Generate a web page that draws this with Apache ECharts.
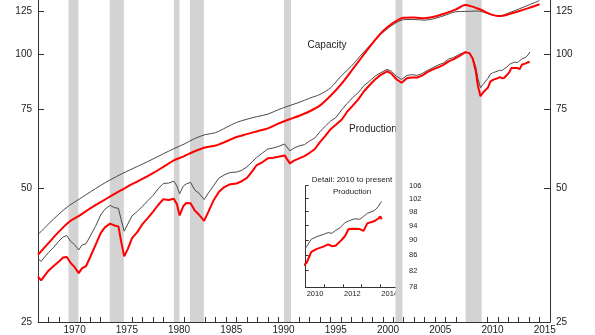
<!DOCTYPE html>
<html>
<head>
<meta charset="utf-8">
<script src="https://cdn.jsdelivr.net/npm/echarts@6/dist/echarts.min.js"></script>
<style>
  html, body { margin: 0; padding: 0; background: #ffffff; }
  #chart { width: 595px; height: 335px; }
</style>
</head>
<body>
<div id="chart"></div>
<script>
// Industrial production and capacity, index values (ratio scale)
const capacityDates = [1967,1968,1969,1970,1971,1972,1973,1974,1975,1976,1977,1978,1979,1980,1981,1982,1983,1984,1985,1986,1987,1988,1989,1990,1991,1992,1993,1994,1995,1996,1997,1998,1999,2000,2001,2002,2003,2004,2005,2006,2007,2007.9,2008.5,2009.0,2009.5,2010.0,2010.5,2011.0,2011.5,2012.0,2013.0,2014.0,2015.0];
const capacityOld = [39.3,41.5,43.7,45.7,47.3,49.0,50.7,52.3,53.8,55.2,56.6,58.1,59.7,61.3,62.8,64.6,65.9,66.6,68.4,70.2,71.4,72.4,73.3,75.0,76.5,77.9,79.6,81.2,84.0,89.2,94.0,100.0,106.0,111.8,116.5,119.5,119.6,119.2,120.3,122.3,124.5,124.7,124.8,125.0,124.5,123.4,122.3,121.8,122.2,123.6,126.2,129.0,131.9];
const capacityNew = [35.4,37.6,39.9,42.0,43.4,45.0,46.5,48.0,49.5,51.0,52.4,54.0,55.8,57.7,59.0,60.5,61.7,62.3,63.6,65.1,66.1,67.1,68.1,69.8,71.3,72.7,74.4,76.7,80.6,85.5,91.7,98.5,105.7,112.5,117.5,120.7,120.8,120.4,121.5,123.5,126.0,128.9,128.0,126.8,125.5,123.8,122.5,121.8,122.0,122.8,124.8,127.0,129.4];

const productionDates = [1967.0,1967.3,1967.6,1968.0,1968.5,1969.0,1969.4,1969.75,1970.1,1970.5,1970.9,1971.2,1971.6,1972.0,1972.5,1973.0,1973.4,1973.9,1974.3,1974.7,1974.95,1975.25,1975.6,1976.0,1976.5,1977.0,1977.5,1978.0,1978.5,1979.0,1979.5,1980.0,1980.3,1980.55,1980.9,1981.2,1981.6,1982.0,1982.4,1982.9,1983.3,1983.8,1984.3,1984.8,1985.4,1986.0,1986.5,1987.0,1987.5,1987.9,1988.5,1989.0,1989.5,1990.0,1990.6,1991.1,1991.5,1992.0,1992.5,1993.0,1993.5,1994.0,1994.5,1995.0,1995.5,1996.1,1996.6,1997.1,1997.65,1998.2,1998.7,1999.25,1999.8,2000.4,2000.8,2001.3,2001.8,2002.3,2002.75,2003.3,2003.8,2004.3,2004.8,2005.3,2005.8,2006.3,2006.8,2007.3,2007.9,2008.3,2008.6,2008.9,2009.1,2009.35,2009.6,2009.85,2010.05,2010.3,2010.6,2010.95,2011.2,2011.4,2011.6,2011.85,2012.1,2012.3,2012.6,2012.9,2013.1,2013.3,2013.7,2013.9,2014.0,2014.07];
const productionOld = [34.7,34.2,34.9,35.8,36.8,38.0,38.8,39.1,38.0,37.3,36.3,37.2,37.5,39.0,41.0,43.5,44.8,45.7,45.2,45.0,42.5,40.0,41.5,43.3,44.3,45.5,46.8,48.1,49.8,51.2,51.3,51.8,50.5,48.5,50.5,51.1,51.5,49.5,48.7,47.1,48.7,50.6,52.6,53.5,54.2,54.3,54.8,55.8,57.3,58.5,60.0,61.2,61.5,62.0,62.8,60.6,61.5,62.2,62.6,63.8,64.8,67.0,68.9,70.7,72.0,75.1,77.5,79.8,81.9,85.0,86.8,89.2,90.8,92.4,91.6,89.2,87.7,89.5,89.9,89.6,90.5,92.0,93.2,94.5,95.5,97.5,98.3,99.8,101.1,100.4,98.0,93.5,88.0,84.0,85.5,87.0,88.2,90.2,90.9,91.5,92.0,91.8,92.6,93.4,94.8,95.3,95.9,95.8,96.6,97.5,98.4,99.6,100.6,101.1];
const productionNew = [31.6,31.0,31.7,32.6,33.4,34.2,34.9,35.0,34.0,33.2,32.2,33.0,33.4,35.0,37.2,39.6,40.8,41.6,41.2,41.0,38.0,35.1,36.5,38.6,39.8,41.5,42.8,44.2,45.8,47.2,47.0,47.3,46.0,43.4,45.5,46.3,46.2,44.5,43.6,42.2,44.2,46.9,49.0,50.2,51.0,51.2,51.8,52.7,54.5,56.2,57.2,58.3,58.5,58.8,59.2,56.8,57.6,58.3,59.0,60.0,61.2,63.5,65.5,67.8,69.4,71.4,74.3,76.5,79.1,82.5,85.0,87.7,89.8,91.5,90.5,87.8,86.2,88.2,88.6,88.6,89.6,91.2,92.4,93.4,94.6,96.3,97.4,99.0,101.0,100.5,97.7,91.5,84.8,80.4,82.0,83.2,84.0,86.8,87.6,88.2,88.8,88.3,88.4,89.6,91.0,93.0,93.1,93.0,92.5,94.6,95.3,96.0,96.6,95.8];

// Recession periods (decimal years)
const recessions = [[1969.92,1970.87],[1973.87,1975.21],[1980.0,1980.54],[1981.54,1982.87],[1990.54,1991.21],[2001.21,2001.87],[2007.92,2009.46]];

// Tick values
const mainYTicks = [25, 50, 75, 100, 125];
const mainXLabels = [1970, 1975, 1980, 1985, 1990, 1995, 2000, 2005, 2010, 2015];
const insetYTicks = [78, 82, 86, 90, 94, 98, 102, 106];
const insetXLabels = [2010, 2012, 2014];

const LN = Math.log;
const pairs = (xs, ys) => xs.map((x, i) => [x, LN(ys[i])]);
const range = (a, b) => { const r = []; for (let v = a; v <= b; v++) r.push(v); return r; };

const FONT = '"Liberation Sans", Arial, Helvetica, sans-serif';
const INK = '#222';
const AXIS = '#333';
const GREY_LINE = '#4a4a4a';
const RED = '#ff0000';

const mainYMin = LN(25), mainYMax = LN(132.3);
const insetYMin = LN(78), insetYMax = LN(106);

function yFormatter(v) { return String(Math.round(Math.exp(v))); }
function xFormatter(v) { return String(Math.floor(v)); }

const chart = echarts.init(document.getElementById('chart'), null, { renderer: 'canvas' });

const option = {
  animation: false,
  backgroundColor: '#ffffff',
  textStyle: { fontFamily: FONT },
  grid: [
    { left: 38, right: 45, top: 0, bottom: 11 },
    { left: 305.7, top: 185.7, width: 93.3, height: 101.6 }
  ],
  xAxis: [
    {
      gridIndex: 0, type: 'value', min: 1967, max: 2016,
      splitLine: { show: false },
      axisLine: { show: true, lineStyle: { color: AXIS, width: 1 } },
      axisTick: { show: true, inside: true, length: 5, customValues: range(1967, 2016), lineStyle: { color: AXIS } },
      axisLabel: { customValues: mainXLabels.map(y => y + 0.5), formatter: xFormatter, color: INK, fontSize: 10, margin: 3, fontFamily: FONT }
    },
    {
      gridIndex: 1, type: 'value', min: 2010, max: 2015,
      splitLine: { show: false },
      axisLine: { show: true, lineStyle: { color: AXIS, width: 1 } },
      axisTick: { show: true, inside: true, length: 3, customValues: range(2010, 2015), lineStyle: { color: AXIS } },
      axisLabel: { customValues: insetXLabels.map(y => y + 0.5), formatter: xFormatter, color: INK, fontSize: 7.5, margin: 3, fontFamily: FONT }
    }
  ],
  yAxis: [
    {
      gridIndex: 0, type: 'value', position: 'left', min: mainYMin, max: mainYMax,
      splitLine: { show: false },
      axisLine: { show: true, lineStyle: { color: AXIS, width: 1 } },
      axisTick: { show: true, inside: true, length: 6, customValues: mainYTicks.map(LN), lineStyle: { color: AXIS } },
      axisLabel: { customValues: mainYTicks.map(LN), formatter: yFormatter, color: INK, fontSize: 10, margin: 6, fontFamily: FONT }
    },
    {
      gridIndex: 0, type: 'value', position: 'right', min: mainYMin, max: mainYMax,
      splitLine: { show: false },
      axisLine: { show: true, lineStyle: { color: AXIS, width: 1 } },
      axisTick: { show: true, inside: true, length: 6, customValues: mainYTicks.map(LN), lineStyle: { color: AXIS } },
      axisLabel: { customValues: mainYTicks.map(LN), formatter: yFormatter, color: INK, fontSize: 10, margin: 6, fontFamily: FONT }
    },
    {
      gridIndex: 1, type: 'value', position: 'left', min: insetYMin, max: insetYMax,
      splitLine: { show: false },
      axisLine: { show: true, lineStyle: { color: AXIS, width: 1 } },
      axisTick: { show: true, inside: true, length: 3, customValues: insetYTicks.map(LN), lineStyle: { color: AXIS } },
      axisLabel: { show: false }
    },
    {
      gridIndex: 1, type: 'value', position: 'right', min: insetYMin, max: insetYMax,
      splitLine: { show: false },
      axisLine: { show: false },
      axisTick: { show: false },
      axisLabel: { customValues: insetYTicks.map(LN), formatter: yFormatter, color: INK, fontSize: 7.5, margin: 10, fontFamily: FONT }
    }
  ],
  series: [
    {
      name: 'recessions', type: 'line', xAxisIndex: 0, yAxisIndex: 0, data: [], z: 1,
      markArea: {
        silent: true,
        itemStyle: { color: '#d3d3d3', opacity: 1 },
        data: recessions.map(r => [{ xAxis: r[0] }, { xAxis: r[1] }])
      }
    },
    {
      name: 'Capacity (previous)', type: 'line', xAxisIndex: 0, yAxisIndex: 0, z: 3,
      data: pairs(capacityDates, capacityOld), showSymbol: false, smooth: 0.3,
      lineStyle: { color: GREY_LINE, width: 1 }
    },
    {
      name: 'Production (previous)', type: 'line', xAxisIndex: 0, yAxisIndex: 0, z: 3,
      data: pairs(productionDates, productionOld), showSymbol: false,
      lineStyle: { color: GREY_LINE, width: 1 }
    },
    {
      name: 'Capacity', type: 'line', xAxisIndex: 0, yAxisIndex: 0, z: 4,
      data: pairs(capacityDates, capacityNew), showSymbol: false, smooth: 0.3,
      lineStyle: { color: RED, width: 2 }
    },
    {
      name: 'Production', type: 'line', xAxisIndex: 0, yAxisIndex: 0, z: 4,
      data: pairs(productionDates, productionNew), showSymbol: false,
      lineStyle: { color: RED, width: 2 }
    },
    {
      name: 'Detail previous', type: 'line', xAxisIndex: 1, yAxisIndex: 2, z: 5,
      data: pairs(productionDates, productionOld).filter(p => p[0] >= 2009.8), showSymbol: false,
      lineStyle: { color: GREY_LINE, width: 1 }
    },
    {
      name: 'Detail', type: 'line', xAxisIndex: 1, yAxisIndex: 2, z: 6,
      data: pairs(productionDates, productionNew).filter(p => p[0] >= 2009.8), showSymbol: false,
      lineStyle: { color: RED, width: 2 }
    }
  ],
  graphic: [
    { type: 'text', x: 327, y: 45, style: { text: 'Capacity', fill: INK, font: '10px ' + FONT, align: 'center', verticalAlign: 'middle' } },
    { type: 'text', x: 373, y: 129, style: { text: 'Production', fill: INK, font: '10px ' + FONT, align: 'center', verticalAlign: 'middle' } },
    { type: 'text', x: 352, y: 180, style: { text: 'Detail: 2010 to present', fill: INK, font: '8px ' + FONT, align: 'center', verticalAlign: 'middle' } },
    { type: 'text', x: 352, y: 192, style: { text: 'Production', fill: INK, font: '8px ' + FONT, align: 'center', verticalAlign: 'middle' } }
  ]
};

chart.setOption(option);
</script>
</body>
</html>
